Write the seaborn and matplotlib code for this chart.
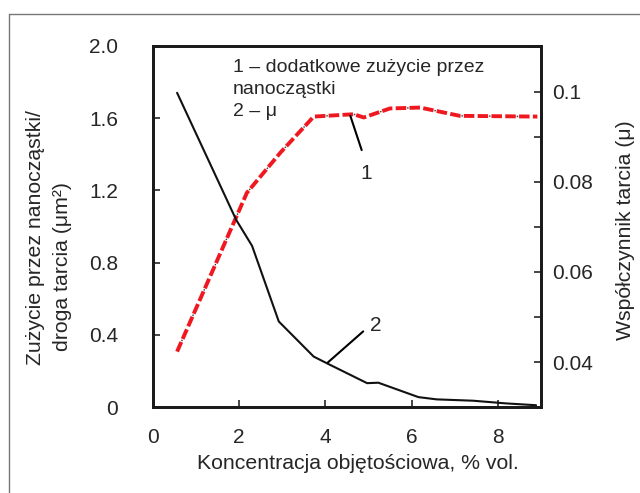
import numpy as np
import pandas as pd
import seaborn as sns
import matplotlib.pyplot as plt
from matplotlib.lines import Line2D
from matplotlib.ticker import MultipleLocator

# curve 1 - additional wear by nanoparticles (left axis)
wear_x = [0.56, 2.18, 2.96, 3.73, 4.66, 4.89, 5.50, 6.20, 7.12, 8.92]
wear_y = [0.307, 1.187, 1.41, 1.609, 1.622, 1.604, 1.654, 1.659, 1.613, 1.609]

# curve 2 - friction coefficient (right axis)
mu_x = [0.56, 1.93, 2.30, 2.92, 3.73, 4.04, 4.97, 5.23, 6.16, 6.58, 7.43, 8.20, 8.89]
mu_y = [0.0998, 0.0716, 0.0658, 0.0490, 0.0412, 0.0397, 0.0353, 0.0354,
        0.0322, 0.0317, 0.0314, 0.0308, 0.0304]

left_ticks = [0, 0.4, 0.8, 1.2, 1.6, 2.0]
left_labels = ["0", "0.4", "0.8", "1.2", "1.6", "2.0"]
right_ticks = [0.04, 0.06, 0.08, 0.1]
right_labels = ["0.04", "0.06", "0.08", "0.1"]
x_ticks = [0, 2, 4, 6, 8]

sns.set_style("ticks")
plt.rcParams['font.family'] = ['Liberation Sans', 'DejaVu Sans']

fig = plt.figure(figsize=(6.4, 4.93), dpi=100)
ax = fig.add_axes([0.239, 0.1744, 0.606, 0.7323])
ax2 = ax.twinx()

wear = pd.DataFrame({'x': wear_x, 'y': wear_y})
mu = pd.DataFrame({'x': mu_x, 'y': mu_y})

# red dashes, with small black dots in every other gap
sns.lineplot(data=wear, x='x', y='y', ax=ax, color='#f01820', lw=2.8,
             sort=False, estimator=None, dashes=False, linestyle=(0, (2.7, 0.85)))
sns.lineplot(data=wear, x='x', y='y', ax=ax, color='#333333', lw=1.0,
             sort=False, estimator=None, dashes=False,
             linestyle=(11.63, (1.0, 18.88)))
sns.lineplot(data=mu, x='x', y='y', ax=ax2, color='#111111', lw=1.5,
             sort=False, estimator=None)

ax.set_xlim(0, 9)
ax.set_ylim(0, 2.0)
ax2.set_ylim(0.03, 0.1102)

ax.set_xticks(x_ticks)
ax.set_yticks(left_ticks)
ax.set_yticklabels(left_labels)
ax2.set_yticks(right_ticks)
ax2.set_yticklabels(right_labels)
ax2.yaxis.set_minor_locator(MultipleLocator(0.01))

for a in (ax, ax2):
    for s in a.spines.values():
        s.set_linewidth(2.0)
        s.set_color('#1a1a1a')
    a.set_xlabel('')
    a.set_ylabel('')

ax.tick_params(axis='x', direction='in', length=5, width=1.2, pad=15,
               labelsize=15, top=False)
ax.tick_params(axis='y', direction='in', length=5, width=1.2, pad=25,
               labelsize=15)
ax2.tick_params(axis='y', which='both', direction='in', length=5, width=1.2,
                pad=8, labelsize=15)

ax.set_xlabel('Koncentracja objętościowa, % vol.', fontsize=15.3)
ax.xaxis.set_label_coords(0.528, -0.13)

fig.text(0.0547, 0.519, 'Zużycie przez nanocząstki/', rotation=90,
         ha='center', va='center', fontsize=15.3)
fig.text(0.0969, 0.4604, 'droga tarcia (μm²)', rotation=90,
         ha='center', va='center', fontsize=15.3)
fig.text(0.977, 0.533, 'Współczynnik tarcia (μ)', rotation=90,
         ha='center', va='center', fontsize=15.3)

ax.text(0.206, 0.965, '1 – dodatkowe zużycie przez\nnanocząstki\n2 – μ',
        transform=ax.transAxes, ha='left', va='top', fontsize=14,
        linespacing=1.4)

ax.annotate('1', xy=(4.58, 1.613), xytext=(4.95, 1.294),
            ha='center', va='center', fontsize=15,
            arrowprops=dict(arrowstyle='-', color='black', lw=1.5,
                            relpos=(0.5, 1.0), shrinkA=8, shrinkB=0))
ax.annotate('2', xy=(4.04, 0.243), xytext=(5.16, 0.45),
            ha='center', va='center', fontsize=15,
            arrowprops=dict(arrowstyle='-', color='black', lw=1.5,
                            relpos=(0.0, 0.5), shrinkA=3, shrinkB=0))

# partial outer frame
fig.add_artist(Line2D([0.014, 1.0], [0.9716, 0.9716], transform=fig.transFigure,
                      color='#777777', lw=1.0))
fig.add_artist(Line2D([0.014, 0.014], [0.9716, 0.0], transform=fig.transFigure,
                      color='#777777', lw=1.0))

fig.savefig('out.png', dpi=100)
